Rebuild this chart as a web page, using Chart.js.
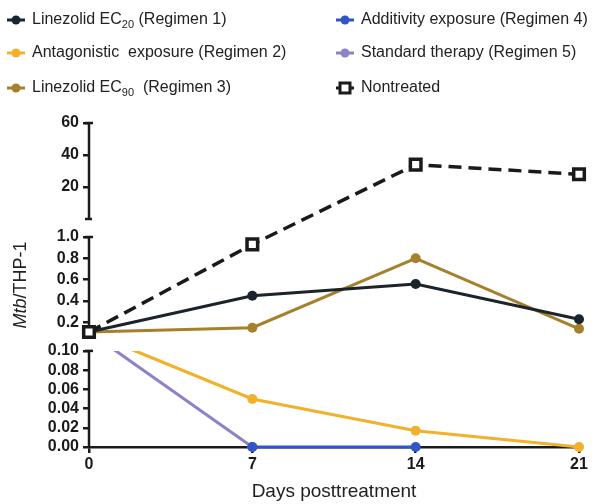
<!DOCTYPE html>
<html lang="en">
<head>
  <meta charset="UTF-8">
  <title>Mtb/THP-1 by regimen</title>
  <script src="https://cdn.jsdelivr.net/npm/chart.js"></script>
  <style>
    body { margin: 0; background: #fff; }
  </style>
</head>
<body>
  <canvas id="myChart" width="606" height="504"></canvas>
  <script>
    // days posttreatment
    const days = [0, 7, 14, 21];

    // Mtb/THP-1 ratio
    const regimen1 = [0.11, 0.45, 0.56, 0.23];
    const regimen2 = [0.11, 0.05, 0.017, 0];
    const regimen3 = [0.11, 0.15, 0.80, 0.14];
    const regimen4 = [null, 0, 0, null];
    const regimen5 = [0.11, 0, null, null];
    const nontreated = [0.11, 0.93, 34, 28];

    // "_20" means subscript in the legend
    const seriesLabels = [
      'Linezolid EC_20 (Regimen 1)',
      'Antagonistic  exposure (Regimen 2)',
      'Linezolid EC_90  (Regimen 3)',
      'Additivity exposure (Regimen 4)',
      'Standard therapy (Regimen 5)',
      'Nontreated'
    ];

    // broken y axis: three pieces, bottom to top
    const ySegments = [[0, 0.1], [0.1, 1], [0, 60]];
    const yTicks = [0, 0.02, 0.04, 0.06, 0.08, 0.1, 0.2, 0.4, 0.6, 0.8, 1.0, 20, 40, 60];

    const FONT = "'Liberation Sans', Arial, sans-serif";
    const INK = '#1a1a1a';

    // linear scale split into three stacked pieces with gaps between them
    class BrokenScale extends Chart.LinearScale {
      segBox(i) {
        const h = this.bottom - this.top;
        const gap = h * 0.055;
        const seg = (h - 2 * gap) / 3;
        const lo = this.bottom - i * (seg + gap);
        return [lo, lo - seg];
      }
      segIndex(v) {
        if (v <= ySegments[0][1]) return 0;
        if (v <= ySegments[1][1]) return 1;
        return 2;
      }
      buildTicks() {
        return yTicks.map(v => ({ value: v }));
      }
      getPixelForValue(v) {
        const i = this.segIndex(v);
        const [lo, hi] = this.segBox(i);
        const [a, b] = ySegments[i];
        return lo - (v - a) / (b - a) * (lo - hi);
      }
      getValueForPixel(p) {
        for (let i = 2; i >= 0; i--) {
          const [lo, hi] = this.segBox(i);
          if (p <= lo || i === 0) {
            const [a, b] = ySegments[i];
            return a + (lo - p) / (lo - hi) * (b - a);
          }
        }
      }
    }
    BrokenScale.id = 'broken';
    BrokenScale.defaults = Chart.LinearScale.defaults;
    Chart.register(BrokenScale);

    function pts(arr) {
      return days.map((d, i) => ({ x: d, y: arr[i] }));
    }

    function line(label, arr, color, order, extra) {
      return Object.assign({
        label: label,
        data: pts(arr),
        borderColor: color,
        backgroundColor: color,
        pointBackgroundColor: color,
        pointBorderWidth: 0,
        pointRadius: 5,
        borderWidth: 3,
        tension: 0,
        clip: false,
        order: order
      }, extra || {});
    }

    const datasets = [
      line(seriesLabels[0], regimen1, '#1b232b', 1),
      line(seriesLabels[1], regimen2, '#f1b12c', 5, { clipGap: true }),
      line(seriesLabels[2], regimen3, '#a6802c', 2),
      line(seriesLabels[3], regimen4, '#2f55c6', 3, { clipGap: true }),
      line(seriesLabels[4], regimen5, '#8d82c8', 4, { clipGap: true }),
      line(seriesLabels[5], nontreated, INK, 0, {
        borderDash: [13, 7],
        borderWidth: 3.5,
        pointStyle: 'rect',
        pointRadius: 7.5,
        pointBackgroundColor: '#fff',
        pointBorderColor: INK,
        pointBorderWidth: 3.5
      })
    ];

    // axis pieces + hide lines inside the lower break
    const brokenAxis = {
      id: 'brokenAxis',
      beforeDatasetsDraw(chart) {
        const y = chart.scales.y, ctx = chart.ctx;
        const x = chart.chartArea.left;
        ctx.save();
        ctx.strokeStyle = INK;
        ctx.lineWidth = 2.5;
        for (let i = 0; i < 3; i++) {
          const [lo, hi] = y.segBox(i);
          ctx.beginPath();
          ctx.moveTo(x, lo);
          ctx.lineTo(x, hi);
          ctx.stroke();
          // little caps at the breaks
          ctx.beginPath();
          ctx.moveTo(x - 4, hi);
          ctx.lineTo(x + 4, hi);
          if (i > 0) {
            ctx.moveTo(x - 4, lo);
            ctx.lineTo(x + 3, lo);
          }
          ctx.stroke();
        }
        ctx.restore();
      },
      beforeDatasetDraw(chart, args) {
        if (!chart.data.datasets[args.index].clipGap) return;
        const y = chart.scales.y, ctx = chart.ctx;
        const gapLow = y.segBox(0)[1];
        const gapHigh = y.segBox(1)[0];
        ctx.save();
        ctx.beginPath();
        ctx.rect(0, 0, chart.width, gapHigh);
        ctx.rect(0, gapLow, chart.width, chart.height - gapLow);
        ctx.clip();
      },
      afterDatasetDraw(chart, args) {
        if (chart.data.datasets[args.index].clipGap) chart.ctx.restore();
      }
    };

    function drawLabel(ctx, text, x, y, size) {
      const parts = text.split(/_(\d+)/);
      parts.forEach((p, k) => {
        const sub = k % 2 === 1;
        ctx.font = (sub ? Math.round(size * 0.7) : size) + 'px ' + FONT;
        ctx.fillText(p, x, sub ? y + 5 : y);
        x += ctx.measureText(p).width;
      });
    }

    // two-column legend and the axis titles
    const extras = {
      id: 'extras',
      afterDraw(chart) {
        const ctx = chart.ctx;
        const colX = [16, 345];
        const rowY = [20, 53, 88];
        ctx.save();
        ctx.textBaseline = 'middle';
        chart.data.datasets.forEach((ds, i) => {
          const cx = colX[Math.floor(i / 3)];
          const cy = rowY[i % 3];
          ctx.strokeStyle = ds.borderColor;
          ctx.lineWidth = 3;
          ctx.setLineDash([]);
          ctx.beginPath();
          ctx.moveTo(cx - 9, cy);
          ctx.lineTo(cx + 9, cy);
          ctx.stroke();
          if (ds.pointStyle === 'rect') {
            ctx.fillStyle = '#fff';
            ctx.fillRect(cx - 5, cy - 5, 10, 10);
            ctx.strokeRect(cx - 5, cy - 5, 10, 10);
          } else {
            ctx.fillStyle = ds.borderColor;
            ctx.beginPath();
            ctx.arc(cx, cy, 4.5, 0, Math.PI * 2);
            ctx.fill();
          }
          ctx.fillStyle = '#222';
          drawLabel(ctx, ds.label, cx + 16, cy, 16);
        });

        // x title
        const area = chart.chartArea;
        ctx.fillStyle = '#222';
        ctx.textAlign = 'center';
        ctx.font = '19px ' + FONT;
        ctx.fillText('Days posttreatment', (area.left + area.right) / 2, 492);

        // y title, Mtb in italics
        ctx.translate(21, 285);
        ctx.rotate(-Math.PI / 2);
        ctx.textAlign = 'left';
        ctx.font = 'italic 18px ' + FONT;
        const w1 = ctx.measureText('Mtb').width;
        ctx.font = '18px ' + FONT;
        const w2 = ctx.measureText('/THP-1').width;
        let sx = -(w1 + w2) / 2;
        ctx.font = 'italic 18px ' + FONT;
        ctx.fillText('Mtb', sx, 0);
        ctx.font = '18px ' + FONT;
        ctx.fillText('/THP-1', sx + w1, 0);
        ctx.restore();
      }
    };

    const tickFont = { family: FONT, size: 16, weight: 'bold' };

    new Chart(document.getElementById('myChart').getContext('2d'), {
      type: 'line',
      data: { datasets: datasets },
      options: {
        responsive: false,
        animation: false,
        layout: { padding: { top: 123, right: 27, left: 0, bottom: 0 } },
        plugins: {
          legend: { display: false },
          tooltip: { enabled: false }
        },
        scales: {
          x: {
            type: 'linear',
            min: 0,
            max: 21,
            afterBuildTicks: s => { s.ticks = days.map(v => ({ value: v })); },
            afterFit: s => { s.height = 57; },
            ticks: { color: INK, font: tickFont, padding: 2 },
            grid: { drawOnChartArea: false, tickLength: 6, lineWidth: 2.5, color: INK },
            border: { display: true, width: 2.5, color: INK }
          },
          y: {
            type: 'broken',
            min: 0,
            max: 60,
            afterFit: s => { s.width = 89; },
            ticks: {
              autoSkip: false,
              color: INK,
              font: tickFont,
              padding: 4,
              callback: v => v >= 20 ? String(v) : (v > 0.1 ? v.toFixed(1) : v.toFixed(2))
            },
            grid: { drawOnChartArea: false, tickLength: 6, lineWidth: 2.5, color: INK },
            border: { display: false }
          }
        }
      },
      plugins: [brokenAxis, extras]
    });
  </script>
</body>
</html>
